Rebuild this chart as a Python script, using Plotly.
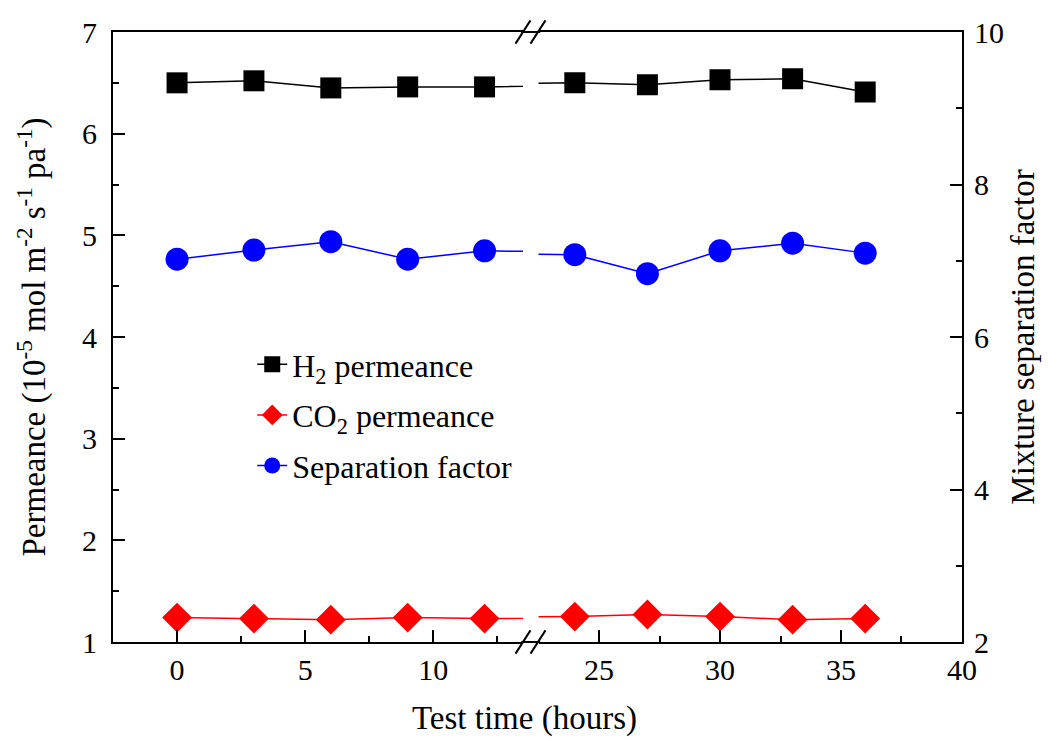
import plotly.graph_objects as go

# ---- data ----
time_h = [0, 3, 6, 9, 12, 24, 27, 30, 33, 36]
h2_perm = [6.50, 6.52, 6.45, 6.46, 6.46, 6.50, 6.48, 6.53, 6.54, 6.41]
co2_perm = [1.24, 1.23, 1.22, 1.24, 1.23, 1.25, 1.27, 1.25, 1.22, 1.23]
sep_factor = [7.02, 7.14, 7.25, 7.02, 7.13, 7.08, 6.83, 7.13, 7.23, 7.10]

x_left_range = [-2.5, 13.5]
x_right_range = [22.5, 40]
y_left_range = [1, 7]
y_right_range = [2, 10]

FONT = "Liberation Serif"
L_DOM = [0.0, 0.4829]
R_DOM = [0.5012, 1.0]

series = [
    ("H<sub>2</sub> permeance", h2_perm, "y", "black", "square", 21),
    ("CO<sub>2</sub> permeance", co2_perm, "y", "#ff0000", "diamond", 23),
    ("Separation factor", sep_factor, "y2", "#0000ff", "circle", 23),
]

fig = go.Figure()
for i, (name, vals, yax, col, sym, size) in enumerate(series):
    for xa in ["x", "x2"]:
        fig.add_trace(go.Scatter(
            x=time_h, y=vals, xaxis=xa, yaxis=yax, mode="lines+markers",
            name=name, legendgroup=f"g{i}", showlegend=(xa == "x"),
            line=dict(color=col, width=1.5),
            marker=dict(color=col, symbol=sym, size=size, line=dict(width=0)),
            cliponaxis=True,
        ))

tick_font = dict(family=FONT, size=30, color="black")
common_x = dict(showline=True, linecolor="black", linewidth=2, mirror=True,
                ticks="inside", ticklen=12, tickwidth=2, tickcolor="black",
                showgrid=False, zeroline=False, tickfont=tick_font,
                tick0=0, dtick=5, automargin=False,
                minor=dict(ticks="inside", ticklen=6, tickwidth=2, tickcolor="black", dtick=2.5, tick0=0, showgrid=False))

fig.update_layout(
    width=1046, height=732,
    margin=dict(l=105, r=92, t=24, b=98),
    paper_bgcolor="white", plot_bgcolor="white",
    font=dict(family=FONT, size=30, color="black"),
    xaxis=dict(domain=L_DOM, range=x_left_range, anchor="y", **common_x),
    xaxis2=dict(domain=R_DOM, range=x_right_range, anchor="y", **common_x),
    yaxis=dict(range=y_left_range, anchor="x", side="left", automargin=False,
               showline=True, linecolor="black", linewidth=2, mirror=False,
               ticks="inside", ticklen=12, tickwidth=2, tickcolor="black",
               showgrid=False, zeroline=False, tickfont=tick_font, dtick=1,
               ticklabelstandoff=8,
               minor=dict(ticks="inside", ticklen=6, tickwidth=2, tickcolor="black", dtick=0.5, showgrid=False),
               title=dict(text="Permeance (10<sup>-5</sup> mol m<sup>-2</sup> s<sup>-1</sup> pa<sup>-1</sup>)",
                          font=dict(family=FONT, size=33), standoff=26)),
    yaxis2=dict(range=y_right_range, anchor="x2", side="right", overlaying="y", automargin=False,
                showline=True, linecolor="black", linewidth=2,
                ticks="inside", ticklen=12, tickwidth=2, tickcolor="black",
                showgrid=False, zeroline=False, tickfont=tick_font, dtick=2,
                ticklabelstandoff=4,
                minor=dict(ticks="inside", ticklen=6, tickwidth=2, tickcolor="black", dtick=1, showgrid=False),
                title=dict(text="Mixture separation factor", font=dict(family=FONT, size=33), standoff=8)),
    legend=dict(x=0.164, y=0.5, xanchor="left", yanchor="top",
                bgcolor="rgba(0,0,0,0)", font=dict(family=FONT, size=32),
                tracegroupgap=6, itemsizing="trace"),
    showlegend=True,
)

# continuous axis lines across the break and break marks
shapes = []
for yy in [0, 1]:
    shapes.append(dict(type="line", xref="paper", yref="paper", x0=L_DOM[1] - 0.002, x1=R_DOM[0] + 0.002,
                       y0=yy, y1=yy, line=dict(color="black", width=2)))
    for xc in [(523 - 113) / 849, (538 - 113) / 849]:
        shapes.append(dict(type="line", xref="paper", yref="paper",
                           x0=xc - 0.0088, x1=xc + 0.0088, y0=yy - 0.019, y1=yy + 0.019,
                           line=dict(color="black", width=2)))
fig.update_layout(shapes=shapes)

fig.add_annotation(text="Test time (hours)", xref="paper", yref="paper",
                   x=0.485, y=0, yshift=-76, xanchor="center", yanchor="middle",
                   showarrow=False, font=dict(family=FONT, size=33))

fig.write_html("out.html")
